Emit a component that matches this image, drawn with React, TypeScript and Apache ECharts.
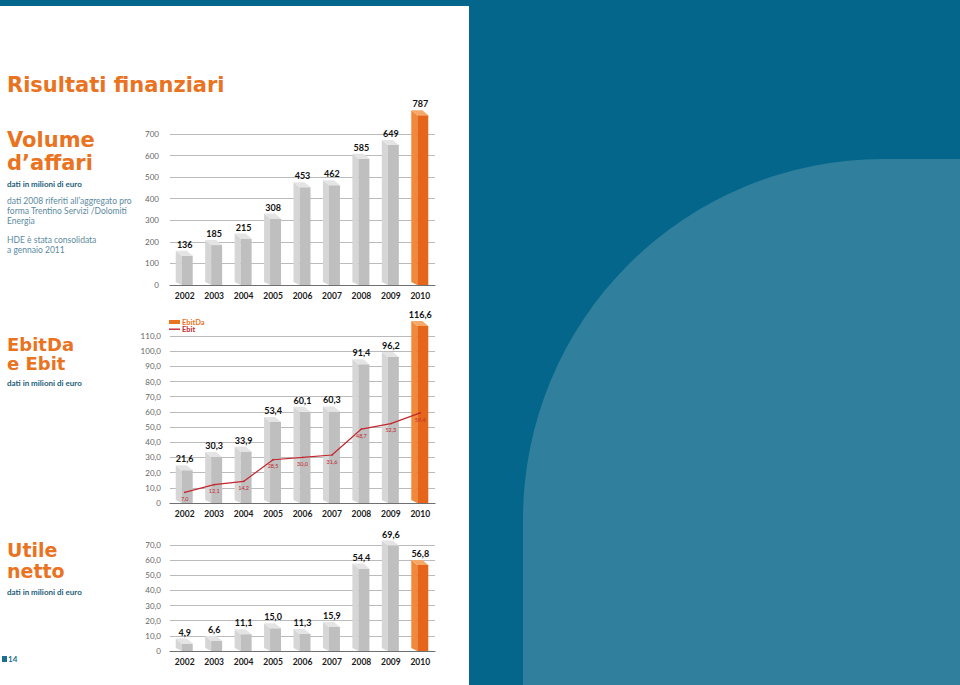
import React, { useEffect, useRef } from "react";
import * as echarts from "echarts";

const years = ["2002", "2003", "2004", "2005", "2006", "2007", "2008", "2009", "2010"];
const volumeValues = [136, 185, 215, 308, 453, 462, 585, 649, 787];
const ebitdaValues = [21.6, 30.3, 33.9, 53.4, 60.1, 60.3, 91.4, 96.2, 116.6];
const ebitValues = [7.0, 12.1, 14.2, 28.5, 30.0, 31.6, 48.7, 52.3, 59.4];
const utileValues = [4.9, 6.6, 11.1, 15.0, 11.3, 15.9, 54.4, 69.6, 56.8];

const ORANGE = "#e9731f";
const RED = "#c3262e";
const TEAL_TEXT = "#1b5e78";
const NOTE = "#5b8aa0";
const GRAY = { side: "#d6d6d6", front: "#bfbfbf", top: "#e4e4e4" };
const ORG = { side: "#f08a3a", front: "#e5661a", top: "#f6a868" };
const HEAD_FONT = "DejaVu Sans";
const FONT = "Lato";

const fmtInt = (v: number) => String(v);
const fmtComma = (v: number) => (v === 0 ? "0" : v.toFixed(1).replace(".", ","));

function boxRenderer(fmt: (v: number) => string) {
  return (params: any, api: any) => {
    const i = api.value(0);
    const v = api.value(1);
    const p = api.coord([i, v]);
    const c = p[0];
    const t = p[1];
    const b = api.coord([i, 0])[1];
    const col = i === years.length - 1 ? ORG : GRAY;
    const d = 5;
    return {
      type: "group",
      children: [
        { type: "polygon", shape: { points: [[c - 9, t - d], [c - 3, t], [c - 3, b], [c - 9, b - 3]] }, style: { fill: col.side } },
        { type: "rect", shape: { x: c - 3, y: t, width: 11, height: b - t }, style: { fill: col.front } },
        { type: "polygon", shape: { points: [[c - 9, t - d], [c + 2, t - d], [c + 8, t], [c - 3, t]] }, style: { fill: col.top } },
        {
          type: "text",
          style: {
            x: c,
            y: t - 7,
            text: fmt(v),
            align: "center",
            verticalAlign: "bottom",
            fontFamily: FONT,
            fontWeight: "bold",
            fontSize: 9,
            fill: "#111",
          },
        },
      ],
    };
  };
}

function txt(text: string, x: number, y: number, size: number, weight: string, color: string, family = FONT, lineHeight?: number) {
  return {
    type: "text",
    x,
    y,
    silent: true,
    style: {
      text,
      fill: color,
      fontSize: size,
      fontWeight: weight,
      fontFamily: family,
      verticalAlign: "middle",
      align: "left",
      lineHeight: lineHeight || size * 1.2,
    },
  };
}

export default function App() {
  const ref = useRef<HTMLDivElement>(null);

  useEffect(() => {
    if (!ref.current) return;
    const chart = echarts.init(ref.current, undefined, { renderer: "svg" });

    const grids = [
      { left: 170, width: 265, top: 134, height: 151 },
      { left: 170, width: 265, top: 336, height: 167 },
      { left: 170, width: 265, top: 545, height: 106 },
    ];
    const xAxes = grids.map((_, gi) => ({
      type: "category",
      gridIndex: gi,
      data: years,
      axisTick: { show: false },
      axisLine: { lineStyle: { color: "#6f6f6f", width: 1.2 } },
      axisLabel: { margin: 6, fontFamily: FONT, fontWeight: "bold", fontSize: 8.5, color: "#1a1a1a" },
    }));
    const yBase = {
      axisLine: { show: false },
      axisTick: { show: false },
      splitLine: { lineStyle: { color: "#a9a9a9", width: 0.8 } },
    };
    const yAxes = [
      { ...yBase, type: "value", gridIndex: 0, min: 0, max: 700, interval: 100, axisLabel: { margin: 11, fontFamily: FONT, fontSize: 8, color: "#666", formatter: fmtInt } },
      { ...yBase, type: "value", gridIndex: 1, min: 0, max: 110, interval: 10, axisLabel: { margin: 9, fontFamily: FONT, fontSize: 8, color: "#666", formatter: fmtComma } },
      { ...yBase, type: "value", gridIndex: 2, min: 0, max: 70, interval: 10, axisLabel: { margin: 9, fontFamily: FONT, fontSize: 8, color: "#666", formatter: fmtComma } },
    ];

    const graphics: any[] = [
      txt("Risultati finanziari", 7, 85, 21, "bold", ORANGE, HEAD_FONT, 18),
      txt("Volume\nd\u2019affari", 7, 151.5, 21, "bold", ORANGE, HEAD_FONT, 23),
      txt("dati in milioni di euro", 7, 184, 8, "bold", TEAL_TEXT),
      txt("dati 2008 riferiti all\u2019aggregato pro", 7, 201, 8.5, "normal", NOTE, FONT, 9),
      txt("forma Trentino Servizi /Dolomiti", 7, 211, 8.5, "normal", NOTE, FONT, 9),
      txt("Energia", 7, 221, 8.5, "normal", NOTE, FONT, 9),
      txt("HDE \u00e8 stata consolidata", 7, 240, 8.5, "normal", NOTE, FONT, 9),
      txt("a gennaio 2011", 7, 250, 8.5, "normal", NOTE, FONT, 9),
      txt("EbitDa\ne Ebit", 7, 354, 18, "bold", ORANGE, HEAD_FONT, 19.5),
      txt("dati in milioni di euro", 7, 383, 8, "bold", TEAL_TEXT),
      txt("Utile\nnetto", 7, 560, 19, "bold", ORANGE, HEAD_FONT, 21),
      txt("dati in milioni di euro", 7, 592, 8, "bold", TEAL_TEXT),
      { type: "rect", shape: { x: 2, y: 656, width: 5, height: 6 }, style: { fill: "#1b6f8c" } },
      txt("14", 8, 659, 8, "bold", "#1b6f8c"),
      // legend of the EbitDa / Ebit chart
      { type: "rect", shape: { x: 169, y: 320, width: 11, height: 4 }, style: { fill: ORANGE } },
      txt("EbitDa", 182, 322, 7.5, "bold", ORANGE, FONT, 7),
      { type: "rect", shape: { x: 169, y: 328.5, width: 11, height: 1.4 }, style: { fill: RED } },
      txt("Ebit", 182, 329.5, 7.5, "bold", RED, FONT, 7),
    ];

    chart.setOption({
      animation: false,
      grid: grids,
      xAxis: xAxes,
      yAxis: yAxes,
      graphic: graphics,
      series: [
        {
          name: "Volume d'affari",
          type: "custom",
          xAxisIndex: 0,
          yAxisIndex: 0,
          clip: false,
          renderItem: boxRenderer(fmtInt),
          encode: { x: 0, y: 1 },
          data: volumeValues.map((v, i) => [i, v]),
          z: 2,
        },
        {
          name: "EbitDa",
          type: "custom",
          xAxisIndex: 1,
          yAxisIndex: 1,
          clip: false,
          itemStyle: { color: ORANGE },
          renderItem: boxRenderer(fmtComma),
          encode: { x: 0, y: 1 },
          data: ebitdaValues.map((v, i) => [i, v]),
          z: 2,
        },
        {
          name: "Ebit",
          type: "line",
          xAxisIndex: 1,
          yAxisIndex: 1,
          data: ebitValues,
          symbol: "circle",
          symbolSize: 1.5,
          itemStyle: { color: RED },
          lineStyle: { color: RED, width: 1.2 },
          label: {
            show: true,
            position: "bottom",
            distance: 3,
            formatter: (p: any) => fmtComma(p.value),
            fontFamily: FONT,
            fontSize: 5.5,
            color: RED,
          },
          z: 5,
        },
        {
          name: "Utile netto",
          type: "custom",
          xAxisIndex: 2,
          yAxisIndex: 2,
          clip: false,
          renderItem: boxRenderer(fmtComma),
          encode: { x: 0, y: 1 },
          data: utileValues.map((v, i) => [i, v]),
          z: 2,
        },
      ],
    });

    return () => chart.dispose();
  }, []);

  return (
    <div style={{ position: "fixed", left: 0, top: 0, width: 960, height: 685, background: "#03668a", overflow: "hidden" }}>
      <div style={{ position: "absolute", left: 523, top: 159, width: 600, height: 700, background: "#2f7f9d", borderTopLeftRadius: 360 }} />
      <div style={{ position: "absolute", left: 0, top: 6, width: 469, height: 679, background: "#ffffff" }} />
      <div ref={ref} style={{ position: "absolute", left: 0, top: 0, width: 960, height: 685 }} />
    </div>
  );
}
